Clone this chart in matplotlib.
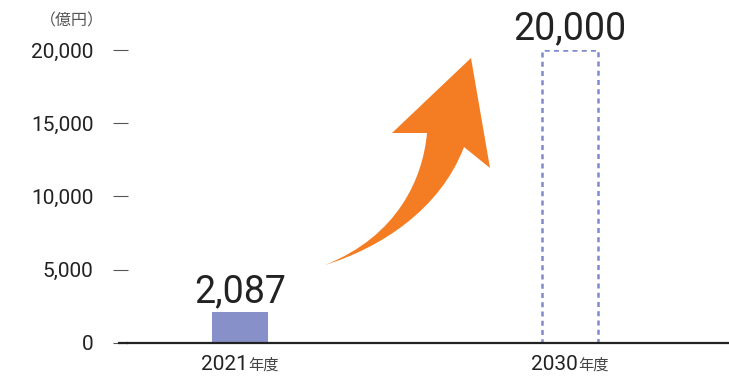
import matplotlib
matplotlib.use("Agg")
import matplotlib.pyplot as plt
from matplotlib.path import Path
from matplotlib.patches import PathPatch

plt.rcParams['font.family'] = ['Roboto', 'Noto Sans CJK JP', 'DejaVu Sans']

# data
years = ['2021', '2030']
values = [2087, 20000]
yticks = [0, 5000, 10000, 15000, 20000]
unit_label = '（億円）'
year_suffix = '年度'

W, H = 729, 377
fig = plt.figure(figsize=(W / 100, H / 100), dpi=100)
ax = fig.add_axes([128 / W, 1 - 343 / H, (W - 128) / W, 293 / H])

xpos = [0, 1]
ax.set_xlim(-0.339, 1.482)
ax.set_ylim(0, 20000)

# actual bar and the dashed target bar
ax.bar(xpos[0], values[0], width=0.17, color='#8790c8', zorder=2)
ax.bar(xpos[1], values[1], width=0.17, fill=False, edgecolor='#8089cc',
       linewidth=1.8, linestyle=(0, (2.0, 1.7)), zorder=1)

for x, v in zip(xpos, values):
    ax.annotate('{:,}'.format(v), (x, v), xytext=(0, 7.5), textcoords='offset points',
                ha='center', va='baseline', fontsize=27, color='#222222')

# x labels: year + small suffix
for x, y in zip(xpos, years):
    ax.annotate(y, (x, 0), xytext=(5.8, -19.4), textcoords='offset points',
                ha='right', va='baseline', fontsize=15, color='#222222',
                annotation_clip=False)
    ax.annotate(year_suffix, (x, 0), xytext=(5.8, -19.4), textcoords='offset points',
                ha='left', va='baseline', fontsize=11, color='#444444',
                annotation_clip=False)

ax.set_xticks([])
ax.set_yticks(yticks)
ax.set_yticklabels(['{:,}'.format(t) for t in yticks], fontsize=15, color='#222222')
ax.tick_params(axis='y', length=10.8, width=0.8, color='#555555', pad=14)

for s in ['top', 'right', 'left']:
    ax.spines[s].set_visible(False)
ax.spines['bottom'].set_linewidth(1.6)
ax.spines['bottom'].set_color('#222222')
ax.spines['bottom'].set_zorder(3)
ax.plot([-10 / 601, 0], [0, 0], transform=ax.get_yaxis_transform(), color='#222222',
        linewidth=1.6, clip_on=False, solid_capstyle='butt')

fig.text(72 / W, 1 - 21 / H, unit_label, ha='center', va='center', fontsize=11.5,
         color='#555555')

# orange curved arrow (pixel coords from top-left)
def px(x, y):
    return (x / W, 1 - y / H)

verts = [px(325, 265),
         px(380, 248), px(440, 210), px(464, 147),
         px(490, 168), px(471, 58), px(392, 133), px(427, 133),
         px(423, 178), px(398, 236), px(325, 265),
         px(325, 265)]
codes = [Path.MOVETO,
         Path.CURVE4, Path.CURVE4, Path.CURVE4,
         Path.LINETO, Path.LINETO, Path.LINETO, Path.LINETO,
         Path.CURVE4, Path.CURVE4, Path.CURVE4,
         Path.CLOSEPOLY]
fig.patches.append(PathPatch(Path(verts, codes), transform=fig.transFigure,
                             facecolor='#f47c22', edgecolor='none'))

plt.savefig('out.png', dpi=100)
